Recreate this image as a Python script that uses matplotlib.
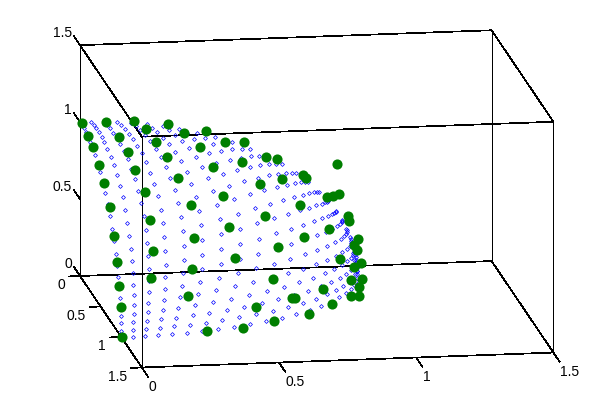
import numpy as np
import matplotlib
matplotlib.use('Agg')
import matplotlib.pyplot as plt
from mpl_toolkits.mplot3d import proj3d

plt.rcParams['font.family'] = ['Liberation Sans', 'DejaVu Sans']

x_ticks = [0, 0.5, 1, 1.5]
y_ticks = [0, 0.5, 1, 1.5]
z_ticks = [0, 0.5, 1, 1.5]
tick_labels = ['0', '0.5', '1', '1.5']

lattice_steps = [0,1,2,3,4,5,6,7,8,9,10,11,12,13,14,15,16,17,18,19,20,21,22,23,24,25]

green_x = [0.003,0.093,0.001,0.112,0.003,0.124,0.001,0.129,0.002,0.196,0.228,0.320,0.242,0.262,0.280,0.144,0.369,0.458,0.520,0.596,
           0.406,0.671,0.716,0.553,0.428,0.698,0.597,0.437,0.937,0.810,0.821,0.896,0.921,0.943,0.744,0.970,0.969,0.005,0.306,0.143,
           0.002,0.297,0.137,0.001,0.275,0.587,0.437,0.734,0.620,0.444,0.852,0.998,0.982,0.988,0.882,1.001,0.958,0.935,0.996,0.974,
           0.793,0.925,0.950,0.837,0.672,0.119,0.000,0.252,0.002,0.320,0.001,0.586,0.659,0.512,0.730,0.584,0.460]
green_y = [0.020,0.009,0.188,0.200,0.298,0.342,0.444,0.478,0.569,0.003,0.082,0.003,0.227,0.365,0.510,0.617,0.062,0.003,0.046,0.004,
           0.204,0.034,0.005,0.239,0.377,0.244,0.385,0.558,0.008,0.008,0.008,0.017,0.017,0.017,0.375,0.053,0.064,0.697,0.652,0.751,
           0.817,0.792,0.862,0.898,0.888,0.574,0.703,0.541,0.672,0.803,0.359,0.109,0.120,0.132,0.425,0.164,0.279,0.360,0.200,0.294,
           0.606,0.429,0.433,0.553,0.738,0.933,0.953,0.944,0.986,0.952,1.004,0.775,0.749,0.857,0.689,0.817,0.893]
green_z = [1.004,1.000,0.986,0.977,0.959,0.936,0.900,0.873,0.827,0.997,0.974,0.969,0.947,0.898,0.818,0.779,0.932,0.915,0.857,0.836,
           0.895,0.746,0.719,0.803,0.827,0.679,0.709,0.711,0.673,0.604,0.584,0.459,0.464,0.476,0.560,0.346,0.318,0.723,0.699,0.651,
           0.583,0.541,0.496,0.448,0.380,0.578,0.568,0.420,0.415,0.407,0.391,0.218,0.185,0.157,0.222,0.084,0.107,0.057,-0.004,-0.017,
           0.106,-0.019,-0.019,-0.015,0.108,0.350,0.314,0.230,0.191,-0.004,0.002,0.251,0.113,0.107,-0.019,-0.004,-0.011]

H_steps = lattice_steps[-1]
pts = np.array([(i, j, H_steps - i - j) for i in lattice_steps for j in lattice_steps if i + j <= H_steps], float)
pts /= np.linalg.norm(pts, axis=1, keepdims=True)
bx, by, bz = pts.T

W, H = 612, 415
fig = plt.figure(figsize=(W/100, H/100), dpi=100)
ax = fig.add_axes([0, 0, 1, 1], projection='3d', proj_type='ortho', facecolor='none')
ax.set_axis_off()
ax.set_xticks([]); ax.set_yticks([]); ax.set_zticks([])
for axis in (ax.xaxis, ax.yaxis, ax.zaxis):
    axis.set_visible(False)
    axis.label.set_visible(False)
    axis.get_offset_text().set_visible(False)
for t in (ax.title, ax._left_title, ax._right_title):
    t.set_visible(False)
ax.set_xlim(0, 1.5); ax.set_ylim(1.5, 0); ax.set_zlim(0, 1.5)
ax.set_box_aspect((417, 400, 237.5))
ax.view_init(elev=13.4, azim=-98.9)

def px(x, y, z):
    fig.canvas.draw()
    X, Y, _ = proj3d.proj_transform(x, y, z, ax.get_proj())
    p = ax.transData.transform((X, Y))
    return np.array([p[0], H - p[1]])

# Fit the axes square so the box corners land where the reference has them
A = px(0, 0, 0); C = px(1.5, 1.5, 0)
target_A = np.array([80, 276.]); target_C = np.array([553, 355.])
cur = ax.get_position()
S0 = cur.width * W
s = np.hypot(*(target_C - target_A)) / np.hypot(*(C - A))
S = S0 * s
centre = np.array([(cur.x0 + cur.width/2) * W, H - (cur.y0 + cur.height/2) * H])
c = target_A - (A - centre) * s
ax.set_position([(c[0] - S/2)/W, (H - c[1] - S/2)/H, S/W, S/H])

lk = dict(color='k', lw=0.5, antialiased=False, zorder=1)
lo, hi = x_ticks[0], x_ticks[-1]
for y0 in (lo, hi):
    for z0 in (lo, hi):
        ax.plot([lo, hi], [y0, y0], [z0, z0], **lk)
for x0 in (lo, hi):
    for z0 in (lo, hi):
        ax.plot([x0, x0], [lo, hi], [z0, z0], **lk)
for x0 in (lo, hi):
    for y0 in (lo, hi):
        ax.plot([x0, x0], [y0, y0], [lo, hi], **lk)
for t, l in zip(x_ticks, tick_labels):
    ax.plot([t, t], [1.5, 1.65], [0, 0], **lk)
    ax.text(t + .025, 1.5, -.129, l, ha='left', va='center', fontsize=10)
for t, l in zip(y_ticks, tick_labels):
    ax.plot([0, -.04], [t, t], [0, 0], **lk)
    ax.text(-.055, t, -.057, l, ha='right', va='center', fontsize=10)
for t, l in zip(z_ticks, tick_labels):
    ax.plot([0, 0], [0, -.15], [t, t], **lk)
    ax.text(-.03, 0, t + .078, l, ha='right', va='center', fontsize=10)
ax.plot(bx, by, bz, ls='none', marker='D', ms=2.0, mfc='none', mec='#0000ff', mew=.5, zorder=2)
ax.plot(green_x, green_y, green_z, ls='none', marker='o', ms=7.3, mfc='#007f00', mec='#007f00', mew=0, zorder=3)
fig.savefig('out.png', dpi=100, facecolor='white')
